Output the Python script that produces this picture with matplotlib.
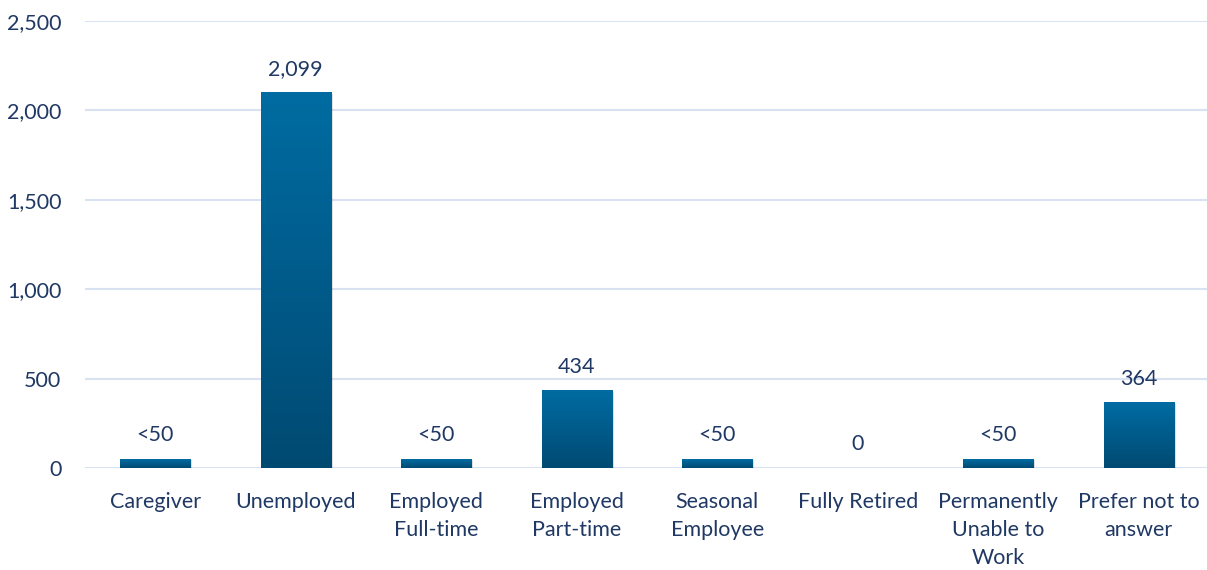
import numpy as np
import matplotlib.pyplot as plt
from matplotlib.colors import LinearSegmentedColormap

categories = ["Caregiver", "Unemployed", "Employed\nFull-time", "Employed\nPart-time",
              "Seasonal\nEmployee", "Fully Retired", "Permanently\nUnable to\nWork",
              "Prefer not to\nanswer"]
values = [50, 2099, 50, 434, 50, 0, 50, 364]
value_labels = ["<50", "2,099", "<50", "434", "<50", "0", "<50", "364"]
yticks = [0, 500, 1000, 1500, 2000, 2500]

TEXT = "#1f3864"
plt.rcParams['font.family'] = ['Lato', 'DejaVu Sans']

fig = plt.figure(figsize=(12.07, 5.70), dpi=100)
ax = fig.add_axes([85 / 1207, 102 / 570, 1124 / 1207, 447 / 570])

x = np.arange(len(categories))
width = 0.5
cmap = LinearSegmentedColormap.from_list("bar", ["#004a72", "#006ca2"])
grad = np.linspace(0, 1, 256).reshape(-1, 1)

for xi, v in zip(x, values):
    if v <= 0:
        continue
    # soft shadow
    ax.bar(xi + 0.012, v, width, bottom=-8, color="#000000", alpha=0.12, zorder=2)
    ax.imshow(grad, cmap=cmap, origin="lower", aspect="auto",
              extent=(xi - width / 2, xi + width / 2, 0, v), zorder=3)

for xi, v, lab in zip(x, values, value_labels):
    ax.annotate(lab, (xi, v), xytext=(0, 10), textcoords="offset points",
                ha="center", va="bottom", fontsize=15.5, color=TEXT)

ax.set_xlim(-0.5, len(categories) - 0.5)
ax.set_ylim(0, 2500)
ax.set_yticks(yticks)
ax.set_yticklabels([f"{t:,}" for t in yticks])
ax.set_xticks(x)
ax.set_xticklabels(categories, linespacing=1.5)
ax.tick_params(axis="both", length=0, labelsize=15.5, labelcolor=TEXT)
ax.tick_params(axis="y", pad=17)
ax.tick_params(axis="x", pad=17)
ax.yaxis.grid(True, color="#d9e2f3", linewidth=1.5, zorder=0)
ax.set_axisbelow(True)
for s in ax.spines.values():
    s.set_visible(False)

fig.savefig("out.png", dpi=100)
